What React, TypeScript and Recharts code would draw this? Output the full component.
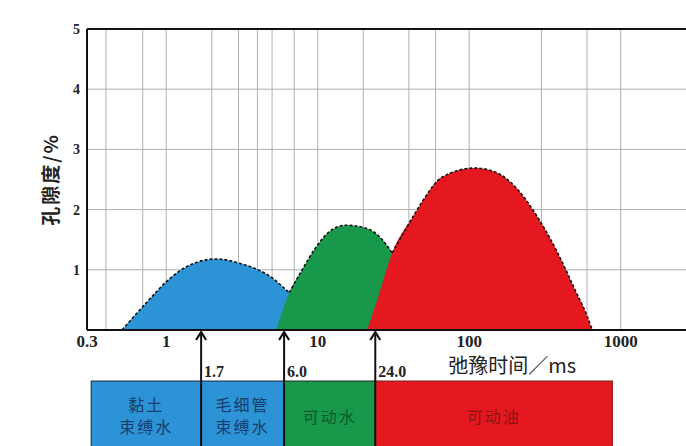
import { ComposedChart, Area, Line, XAxis, YAxis, CartesianGrid, ReferenceLine, ReferenceArea } from 'recharts'

// T2 spectrum, log axis
const T2_TICKS = [0.3, 1, 10, 100, 1000]
const POR_TICKS = [1, 2, 3, 4, 5]
const GRID_T2 = [
  0.4, 0.5, 0.6, 0.7, 0.8, 0.9,
  1, 2, 3, 4, 5, 6, 7, 8, 9,
  10, 20, 30, 40, 50, 60, 70, 80, 90,
  100, 200, 300, 400, 500, 600, 700, 800, 900, 1000,
]
const GRID_POR = [1, 2, 3, 4]

// bound water peak
const BLUE_T2 = [0.51, 0.77, 1.0, 1.36, 2.14, 3.03, 4.78, 6.49, 8.4]
const BLUE_POR = [0, 0.5, 0.8, 1.05, 1.18, 1.11, 0.9, 0.62, 0.4]
// movable water peak
const GREEN_T2 = [5.32, 6.49, 7.9, 9.78, 11.9, 15.4, 20.9, 26.7, 31.0, 40, 50]
const GREEN_POR = [0, 0.62, 1.0, 1.38, 1.63, 1.74, 1.69, 1.5, 1.28, 0.7, 0]
// movable oil peak
const RED_T2 = [21.2, 25.1, 31.0, 43.5, 51.3, 66.3, 109, 150, 201, 290, 393, 501, 601, 649]
const RED_POR = [0, 0.55, 1.28, 1.92, 2.21, 2.54, 2.69, 2.62, 2.38, 1.83, 1.23, 0.66, 0.23, 0]

// where one peak disappears behind the next
const BLUE_GREEN_CROSS = 6.49
const GREEN_RED_CROSS = 31.0

const CUTOFFS = [1.7, 6.0, 24.0]
const CUTOFF_LABELS = ['1.7', '6.0', '24.0']

const ZONE_EDGES = [0.32, 1.7, 6.0, 24.0, 880]
const ZONE_NAMES = [['黏土', '束缚水'], ['毛细管', '束缚水'], ['可动水'], ['可动油']]

const BLUE = '#2c93d6'
const GREEN = '#17984a'
const RED = '#e5181f'
const INK = '#111'

const NUM_FONT = '"Liberation Serif", "DejaVu Serif", serif'
const CJK_FONT = '"Noto Sans CJK SC", sans-serif'

// strip below the axis, in porosity units
const BOX_TOP = -0.85
const BOX_BOTTOM = -2.1

const toSeries = (t2: number[], por: number[]) => t2.map((t, i) => ({ t2: t, por: por[i] }))

const blue = toSeries(BLUE_T2, BLUE_POR)
const green = toSeries(GREEN_T2, GREEN_POR)
const red = toSeries(RED_T2, RED_POR)

const blueEdge = blue.filter((p) => p.t2 <= BLUE_GREEN_CROSS)
const greenEdge = green.filter((p) => p.t2 >= BLUE_GREEN_CROSS && p.t2 <= GREEN_RED_CROSS)
const redEdge = red.filter((p) => p.t2 >= GREEN_RED_CROSS)

const ZONE_TEXT = ['#173e6e', '#173e6e', '#0c5a28', '#8a1414']

const cutoffArrow = (label: string) => (props: any) => {
  const { x1, y1, y2 } = props
  const top = Math.min(y1, y2) + 2
  const bottom = Math.max(y1, y2)
  return (
    <g>
      <line x1={x1} x2={x1} y1={top} y2={bottom} stroke={INK} strokeWidth={2} />
      <polyline
        points={`${x1 - 5},${top + 8} ${x1},${top} ${x1 + 5},${top + 8}`}
        fill="none"
        stroke={INK}
        strokeWidth={2.2}
      />
      <text x={x1 + 3} y={top + 45} fontFamily={NUM_FONT} fontWeight="bold" fontSize={16} fill="#222">
        {label}
      </text>
    </g>
  )
}

const zoneLabel = (lines: string[], color: string) => (props: any) => {
  const vb = props.viewBox
  const cx = vb.x + vb.width / 2
  const first = lines.length > 1 ? vb.y + 30 : vb.y + 42
  return (
    <text textAnchor="middle" fontFamily={CJK_FONT} fontSize={16} letterSpacing={2} fill={color}>
      {lines.map((l, i) => (
        <tspan key={i} x={cx} y={first + i * 22}>
          {l}
        </tspan>
      ))}
    </text>
  )
}

export default function App() {
  return (
    <div style={{ position: 'absolute', left: 0, top: 0, background: '#fff' }}>
      <ComposedChart width={686} height={446} margin={{ top: 29, right: 0, bottom: 86, left: 0 }}>
        <CartesianGrid
          verticalValues={GRID_T2}
          horizontalValues={GRID_POR}
          stroke="#b0b0b0"
          strokeWidth={1}
        />
        <XAxis
          type="number"
          dataKey="t2"
          scale="log"
          domain={[0.3, 2700]}
          allowDataOverflow
          ticks={T2_TICKS}
          tickFormatter={(v) => String(v)}
          tickLine={false}
          tickSize={3}
          tickMargin={2}
          height={30}
          axisLine={{ stroke: INK, strokeWidth: 2 }}
          tick={{ fill: '#222', fontFamily: NUM_FONT, fontWeight: 'bold', fontSize: 17 }}
          label={{
            content: (p: any) => (
              <text
                x={p.viewBox.x + p.viewBox.width * 0.71}
                y={373}
                textAnchor="middle"
                fontFamily={CJK_FONT}
                fontSize={20}
                fill="#222"
              >
                弛豫时间／ms
              </text>
            ),
          }}
        />
        <YAxis
          type="number"
          dataKey="por"
          domain={[0, 5]}
          allowDataOverflow
          ticks={POR_TICKS}
          width={87}
          tickLine={false}
          tickSize={5}
          tickMargin={2}
          axisLine={{ stroke: INK, strokeWidth: 2 }}
          tick={{ fill: '#222', fontFamily: NUM_FONT, fontWeight: 'bold', fontSize: 14 }}
          label={{
            content: (p: any) => {
              const cx = p.viewBox.x + 49
              const cy = p.viewBox.y + p.viewBox.height / 2
              return (
                <text
                  x={cx}
                  y={cy}
                  transform={`rotate(-90, ${cx}, ${cy})`}
                  textAnchor="middle"
                  dominantBaseline="central"
                  fontFamily={CJK_FONT}
                  fontWeight="bold"
                  fontSize={19}
                  letterSpacing={2}
                  fill="#222"
                >
                  孔隙度/%
                </text>
              )
            },
          }}
        />
        <ReferenceLine y={5} stroke={INK} strokeWidth={2} />

        <Area data={blue} dataKey="por" type="monotone" fill={BLUE} fillOpacity={1} stroke="none" isAnimationActive={false} />
        <Area data={green} dataKey="por" type="monotone" fill={GREEN} fillOpacity={1} stroke="none" isAnimationActive={false} />
        <Area data={red} dataKey="por" type="monotone" fill={RED} fillOpacity={1} stroke="none" isAnimationActive={false} />

        {[blueEdge, greenEdge, redEdge].map((edge, i) => (
          <Line
            key={i}
            data={edge}
            dataKey="por"
            type="monotone"
            stroke={INK}
            strokeWidth={1.6}
            strokeDasharray="3 2"
            dot={false}
            activeDot={false}
            isAnimationActive={false}
          />
        ))}

        {/* fluid-type strip under the axis */}
        <ReferenceArea x1={ZONE_EDGES[0]} x2={ZONE_EDGES[2]} y1={BOX_TOP} y2={BOX_BOTTOM} fill={BLUE} fillOpacity={1} stroke="#1d3656" strokeWidth={1.2} ifOverflow="visible" />
        <ReferenceArea x1={ZONE_EDGES[2]} x2={ZONE_EDGES[3]} y1={BOX_TOP} y2={BOX_BOTTOM} fill={GREEN} fillOpacity={1} stroke="#1d3a26" strokeWidth={1.2} ifOverflow="visible" />
        <ReferenceArea x1={ZONE_EDGES[3]} x2={ZONE_EDGES[4]} y1={BOX_TOP} y2={BOX_BOTTOM} fill={RED} fillOpacity={1} stroke="#8a1414" strokeWidth={1.2} ifOverflow="visible" />
        {ZONE_NAMES.map((lines, i) => (
          <ReferenceArea
            key={`zone-${i}`}
            x1={ZONE_EDGES[i]}
            x2={ZONE_EDGES[i + 1]}
            y1={BOX_TOP}
            y2={BOX_BOTTOM}
            fill="none"
            stroke="none"
            ifOverflow="visible"
            label={zoneLabel(lines, ZONE_TEXT[i])}
          />
        ))}

        {CUTOFFS.map((t2, i) => (
          <ReferenceLine
            key={`cut-${i}`}
            segment={[{ x: t2, y: BOX_BOTTOM }, { x: t2, y: 0 }]}
            ifOverflow="visible"
            stroke={INK}
            shape={cutoffArrow(CUTOFF_LABELS[i])}
          />
        ))}
      </ComposedChart>
    </div>
  )
}
